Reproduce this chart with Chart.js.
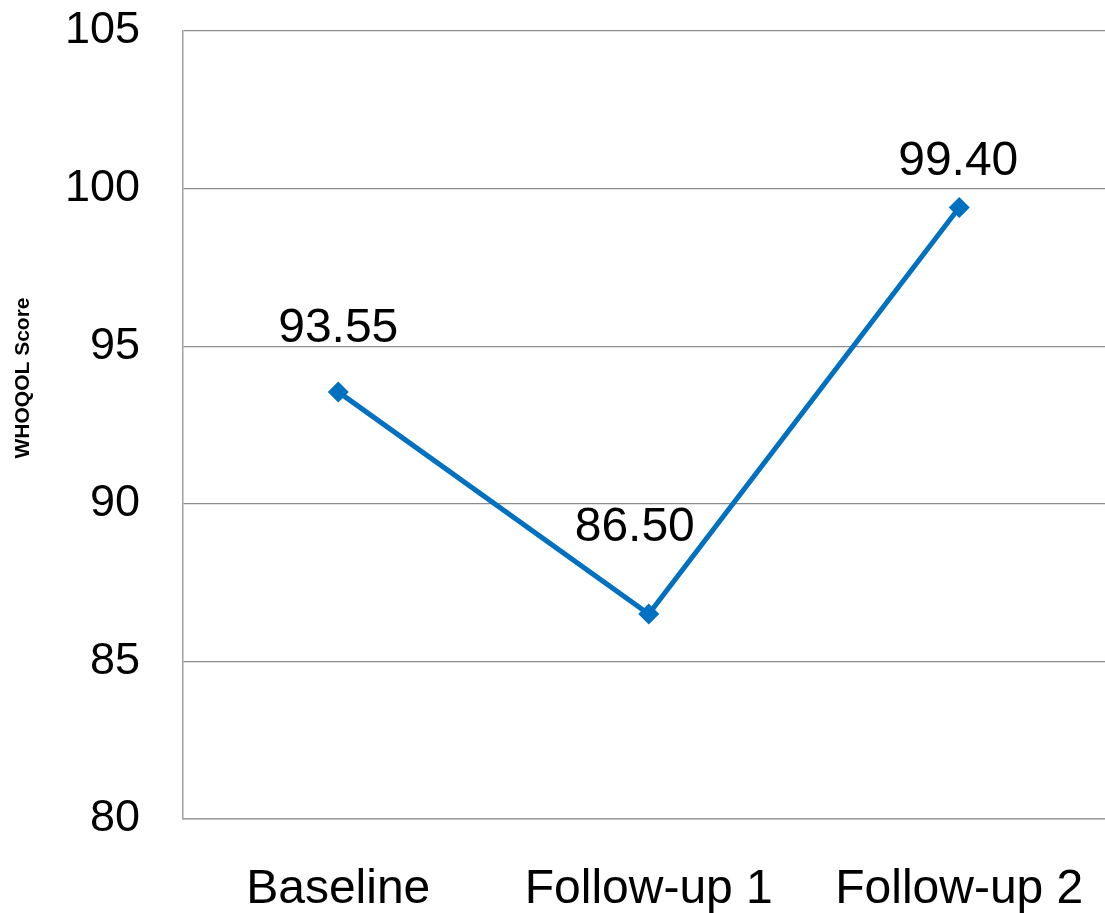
<!DOCTYPE html>
<html>
<head>
<meta charset="utf-8">
<script src="https://cdn.jsdelivr.net/npm/chart.js@4.4.1/dist/chart.umd.min.js"></script>
<style>
  html, body { margin: 0; padding: 0; background: #fff; overflow: hidden; }
  canvas { display: block; }
</style>
</head>
<body>
<canvas id="chart" width="1125" height="913"></canvas>
<script>
// ── Data ───────────────────────────────────────────────────
const categories = ["Baseline", "Follow-up 1", "Follow-up 2"];
const scores     = [93.55, 86.50, 99.40];
const labelTexts = ["93.55", "86.50", "99.40"];
const yTitle     = "WHOQOL Score";

// label placement relative to each point (px)
const labelOffsets = [[0, -63], [-14, -86], [-1, -46]];

const FONT = "'Liberation Sans', Arial, sans-serif";

// ── Data labels + axis title plugin ────────────────────────
const pointLabels = {
    id: "pointLabels",
    afterDatasetsDraw(chart) {
        const ctx = chart.ctx;
        const meta = chart.getDatasetMeta(0);
        ctx.save();
        ctx.font = "48px " + FONT;
        ctx.fillStyle = "#000";
        ctx.textAlign = "center";
        ctx.textBaseline = "middle";
        meta.data.forEach((pt, i) => {
            const [dx, dy] = labelOffsets[i];
            ctx.fillText(labelTexts[i], pt.x + dx, pt.y + dy);
        });

        // y-axis title sits a bit above the plot centre, as in the original
        ctx.translate(23, 378);
        ctx.rotate(-Math.PI / 2);
        ctx.font = "bold 21px " + FONT;
        ctx.fillText(yTitle, 0, 0);
        ctx.restore();
    },
};

const ctx = document.getElementById("chart").getContext("2d");
new Chart(ctx, {
    type: "line",
    data: {
        labels: categories,
        datasets: [{
            label: yTitle,
            data: scores,
            borderColor: "#0070C0",
            borderWidth: 5,
            backgroundColor: "#0070C0",
            pointStyle: "rectRot",
            pointRadius: 10.5,
            pointBorderWidth: 0,
            tension: 0,
            fill: false,
        }],
    },
    options: {
        responsive: false,
        animation: false,
        layout: { padding: { top: 31, left: 0, right: 0, bottom: 0 } },
        plugins: {
            legend: { display: false },
            tooltip: { enabled: false },
        },
        scales: {
            x: {
                offset: true,
                grid: { display: false, drawTicks: false },
                border: { display: true, color: "#a0a0a0", width: 1.5 },
                ticks: {
                    color: "#000",
                    font: { family: FONT, size: 48 },
                    padding: 42,
                    maxRotation: 0,
                },
                afterFit: s => { s.height = 94; s.paddingLeft = 0; s.paddingRight = 0; },
            },
            y: {
                min: 80,
                max: 105,
                ticks: {
                    stepSize: 5,
                    color: "#000",
                    font: { family: FONT, size: 45 },
                    padding: 43,
                },
                grid: { color: "#8c8c8c", lineWidth: 1.2, drawTicks: false },
                border: { display: true, color: "#a0a0a0", width: 1.5 },
                afterFit: s => { s.width = 183; s.paddingTop = 0; s.paddingBottom = 0; },
            },
        },
    },
    plugins: [pointLabels],
});
</script>
</body>
</html>
